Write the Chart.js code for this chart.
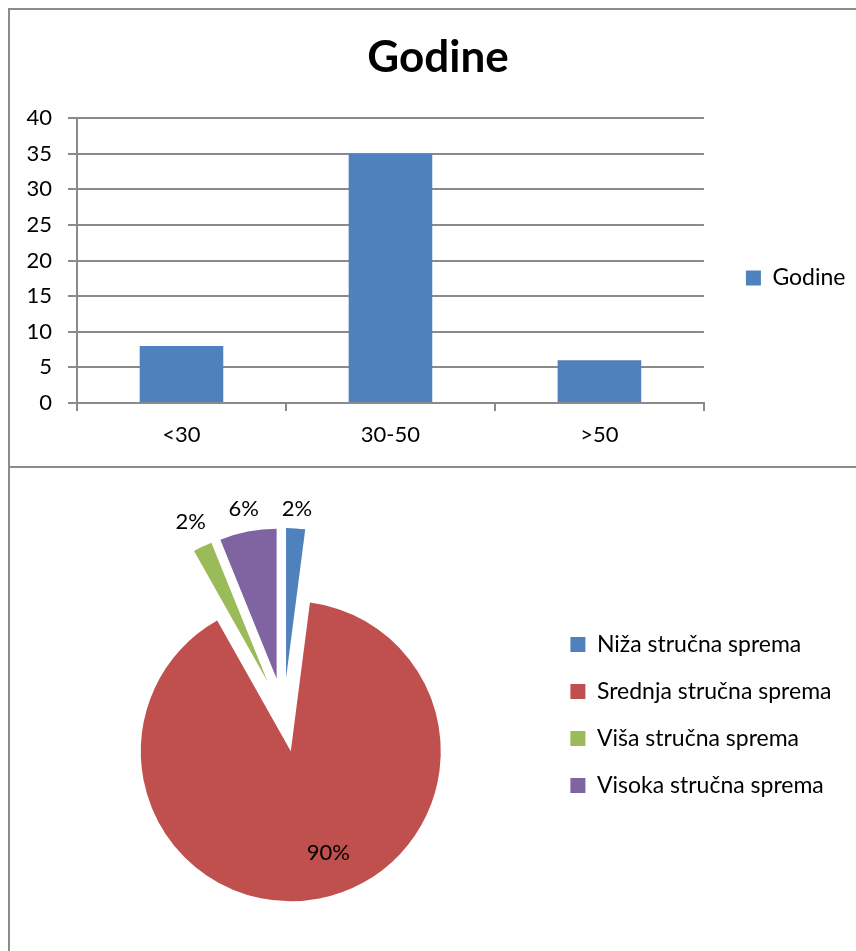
<!DOCTYPE html>
<html>
<head>
<meta charset="utf-8">
<title>Godine / stručna sprema</title>
<script src="https://cdn.jsdelivr.net/npm/chart.js@4.4.1/dist/chart.umd.min.js"></script>
<style>
    html, body {
        margin: 0;
        padding: 0;
        background: #ffffff;
        overflow: hidden;
    }
    .frame {
        position: absolute;
        left: 8px;
        top: 8px;
        width: 900px;
        height: 960px;
        border-left: 2px solid #8c8c8c;
        border-top: 2px solid #8c8c8c;
    }
    .divider {
        position: absolute;
        left: 8px;
        top: 466px;
        width: 900px;
        height: 2px;
        background: #8c8c8c;
    }
    canvas {
        position: absolute;
        left: 0;
    }
    #age-chart { top: 0; }
    #edu-chart { top: 467px; }
</style>
</head>
<body>
<div class="frame"></div>
<div class="divider"></div>
<canvas id="age-chart" width="856" height="556"></canvas>
<canvas id="edu-chart" width="856" height="484"></canvas>

<script>
// Godine (age groups)
const ageLabels = ['<30', '30-50', '>50'];
const ageCounts = [8, 35, 6];
const ageMax = 40;
const ageStep = 5;

// Stručna sprema (education level) - counts out of 49 people
const eduLabels = ['Niža stručna sprema', 'Srednja stručna sprema', 'Viša stručna sprema', 'Visoka stručna sprema'];
const eduCounts = [1, 44, 1, 3];
const eduColors = ['#4F81BD', '#C0504D', '#9BBB59', '#8064A2'];

const FONT = 'Lato, "Open Sans", sans-serif';
const GRID = '#8a8a8a';
const EXPLODE = 37; // how far every slice is pulled out of the pie

document.addEventListener('DOMContentLoaded', () => {
    Chart.defaults.font.family = FONT;
    Chart.defaults.color = '#000';

    new Chart(document.getElementById('age-chart'), {
        type: 'bar',
        data: {
            labels: ageLabels,
            datasets: [{
                label: 'Godine',
                data: ageCounts,
                backgroundColor: '#4F81BD',
                categoryPercentage: 1,
                barPercentage: 0.4
            }]
        },
        options: {
            responsive: false,
            animation: false,
            layout: { padding: { left: 20.5, right: 0.5, top: 0, bottom: 0 } },
            plugins: {
                title: {
                    display: true,
                    text: 'Godine',
                    color: '#000',
                    font: { size: 44, weight: 'bold' },
                    padding: { top: 31.6, bottom: 33.6 }
                },
                legend: {
                    position: 'right',
                    labels: {
                        boxWidth: 15,
                        boxHeight: 15,
                        padding: 42,
                        color: '#000',
                        font: { size: 23 }
                    }
                },
                tooltip: { enabled: false }
            },
            scales: {
                x: {
                    grid: { offset: true, drawOnChartArea: false, tickLength: 8, color: GRID, lineWidth: 2 },
                    border: { color: GRID, width: 2 },
                    ticks: { color: '#000', font: { size: 22 }, padding: 11 },
                    afterFit: scale => { scale.height = 153; }
                },
                y: {
                    min: 0,
                    max: ageMax,
                    ticks: { stepSize: ageStep, color: '#000', font: { size: 22 }, padding: 16 },
                    grid: { color: GRID, lineWidth: 2, tickLength: 9 },
                    border: { color: GRID, width: 2 },
                    afterFit: scale => { scale.width = 56.5; }
                }
            }
        }
    });

    // draw each arc pushed out along its middle angle (exploded pie)
    const explodePlugin = {
        id: 'explode',
        beforeDatasetDraw(chart, args) {
            const ctx = chart.ctx;
            args.meta.data.forEach(arc => {
                const mid = (arc.startAngle + arc.endAngle) / 2;
                ctx.save();
                ctx.translate(Math.cos(mid) * EXPLODE, Math.sin(mid) * EXPLODE);
                arc.draw(ctx);
                ctx.restore();
            });
            return false;
        }
    };

    // percentage labels: small slices outside, the big one inside
    const percentPlugin = {
        id: 'percentLabels',
        afterDatasetsDraw(chart) {
            const ctx = chart.ctx;
            const meta = chart.getDatasetMeta(0);
            const values = chart.data.datasets[0].data;
            const total = values.reduce((a, b) => a + b, 0);
            ctx.save();
            ctx.font = '22px ' + FONT;
            ctx.fillStyle = '#000';
            ctx.textAlign = 'center';
            ctx.textBaseline = 'middle';
            meta.data.forEach((arc, i) => {
                const share = values[i] / total;
                const text = Math.round(share * 100) + '%';
                const mid = (arc.startAngle + arc.endAngle) / 2;
                const cx = Math.cos(mid);
                const cy = Math.sin(mid);
                let dist;
                if (share > 0.5) {
                    // inside label, a bit towards the right like the original
                    const a = mid - 0.12;
                    dist = EXPLODE + arc.outerRadius * 0.72;
                    ctx.fillText(text, arc.x + Math.cos(a) * dist, arc.y + Math.sin(a) * dist);
                    return;
                }
                const w = ctx.measureText(text).width;
                dist = EXPLODE + arc.outerRadius + 8 + (w / 2) * Math.abs(cx) * 1.6 + 10 * Math.abs(cy);
                ctx.fillText(text, arc.x + cx * dist, arc.y + cy * dist);
            });
            ctx.restore();
        }
    };

    new Chart(document.getElementById('edu-chart'), {
        type: 'pie',
        data: {
            labels: eduLabels,
            datasets: [{
                data: eduCounts,
                backgroundColor: eduColors,
                borderWidth: 0
            }]
        },
        options: {
            responsive: false,
            animation: false,
            radius: 150,
            layout: { padding: { left: 21, right: 14.5, top: 12, bottom: 0 } },
            plugins: {
                legend: {
                    position: 'right',
                    labels: {
                        boxWidth: 15,
                        boxHeight: 15,
                        padding: 24,
                        color: '#000',
                        font: { size: 23 }
                    }
                },
                tooltip: { enabled: false }
            }
        },
        plugins: [explodePlugin, percentPlugin]
    });
});
</script>
</body>
</html>
